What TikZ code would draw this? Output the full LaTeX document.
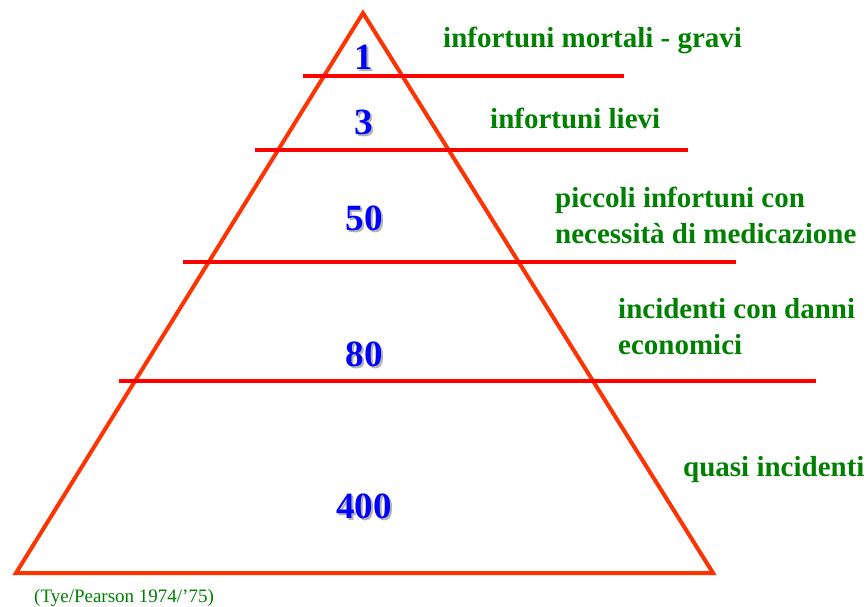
\documentclass[tikz,border=0pt]{standalone}
\usepackage{fontspec}
\setmainfont{Liberation Serif}
\definecolor{tri}{HTML}{FF3300}
\definecolor{bar}{HTML}{FF0000}
\definecolor{lab}{HTML}{008000}
\definecolor{num}{HTML}{0000FF}
\tikzset{
  numtext/.style={font=\bfseries\fontsize{37}{37}\selectfont, text=num, inner sep=0pt},
  numshadow/.style={font=\bfseries\fontsize{37}{37}\selectfont, text=black!30, inner sep=0pt},
  labtext/.style={font=\bfseries\fontsize{29}{36}\selectfont, text=lab, anchor=west, align=left, inner sep=0pt}
}
\begin{document}
\begin{tikzpicture}[x=1pt, y=-1pt]
    \useasboundingbox (0,0) rectangle (868,607);

    \coordinate (T) at (363,13);
    \coordinate (BL) at (16,573);
    \coordinate (BR) at (713,573);
    \draw[tri, line width=4pt, line join=miter] (T) -- (BL) -- (BR) -- cycle;

    % levels
    \foreach \i/\y/\xa/\xb in {1/76/303/624, 2/150/255/688, 3/262/183/736, 4/381/119/816} {
      \coordinate (L\i) at (\xa,\y);
      \coordinate (R\i) at (\xb,\y);
      \draw[bar, line width=4pt] (L\i) -- (R\i);
    }

    % numbers
    \foreach \n/\y/\t in {a/57/1, b/122/3, c/218/50, d/354/80, e/506/400} {
      \node[numshadow] at (366,\y+2) {\t};
      \node[numtext] (\n) at (364,\y) {\t};
    }

    \node[labtext] (mortali) at (443,40) {infortuni mortali - gravi};
    \node[labtext] (lievi) at (490,118) {infortuni lievi};
    \node[labtext] (medic) at (555,215) {piccoli infortuni con\\necessità di medicazione};
    \node[labtext] (danni) at (618,327) {incidenti con danni\\economici};
    \node[labtext] (quasi) at (683,470) {quasi incidenti};

    \node[font=\fontsize{19}{19}\selectfont, text=lab, anchor=west, inner sep=0pt] (fonte) at (34,598) {(Tye/Pearson 1974/’75)};
\end{tikzpicture}
\end{document}
